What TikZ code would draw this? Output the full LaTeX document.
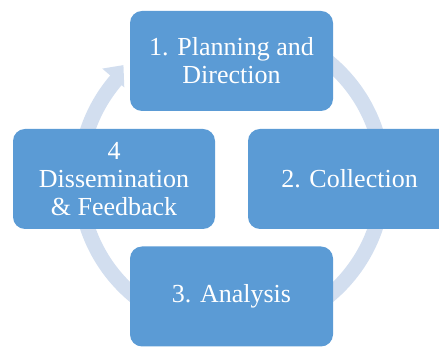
\documentclass[tikz,border=0pt]{standalone}
\usepackage{fontspec}
\setmainfont{Liberation Serif}
\usetikzlibrary{calc}
\definecolor{boxblue}{HTML}{5B9BD5}
\definecolor{ringblue}{HTML}{D2DEEF}
\begin{document}
\begin{tikzpicture}[x=1pt,y=1pt,
  stage/.style={fill=boxblue, draw=none, rounded corners=12pt,
    minimum width=203pt, minimum height=100pt, inner sep=0pt,
    text=white, align=center,
    font=\fontsize{26}{28}\selectfont},
  ring/.style={draw=ringblue, line width=15pt}]
\useasboundingbox (0,0) rectangle (439,347);
\clip (0,0) rectangle (439,347);
\coordinate (hub) at (231.5,168);
% circular arrow behind the stages
\draw[ring] ($(hub)+(100:152)$) arc[start angle=100, end angle=-221, radius=152];
\fill[ringblue] ($(hub)+(139.5:141)$) -- ($(hub)+(133.5:157)$) -- ($(hub)+(139.5:170)$) -- cycle;
% stages
\node[stage] (plan) at (231.5,286) {1. Planning and\\Direction};
\node[stage] (collect) at (349.5,168) {2. Collection};
\node[stage] (analyse) at (231.5,50.5) {3. Analysis};
\node[stage, minimum width=202pt] (dissem) at (114,168) {4\\Dissemination\\\& Feedback};
\end{tikzpicture}
\end{document}
